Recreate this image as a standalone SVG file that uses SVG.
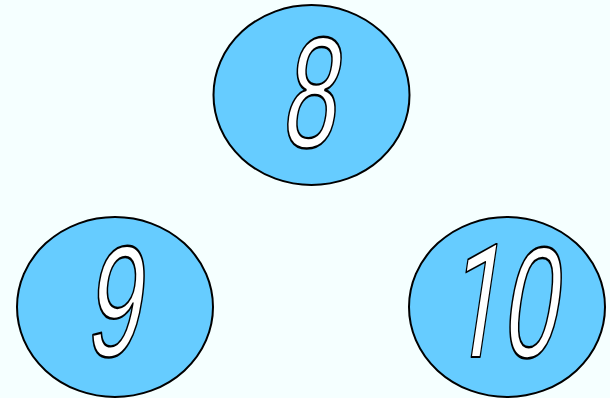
<svg xmlns="http://www.w3.org/2000/svg" width="610" height="398" viewBox="0 0 610 398">
<style>
.n{fill:#66CCFF;stroke:#000;stroke-width:2}
.t{font-family:"Liberation Sans",Arial,sans-serif;font-size:158px;fill:#fff;stroke:#000;stroke-width:2;stroke-linejoin:round;vector-effect:non-scaling-stroke;text-anchor:middle}
.r{font-family:Roboto,"Liberation Sans",sans-serif}
</style>
<rect width="610" height="398" fill="#F5FFFF"/>
<g id="connectors"/>
<g id="node8">
<ellipse class="n" cx="311.5" cy="95" rx="98" ry="90"/>
<text class="t" transform="translate(307,147) skewX(-8.5) scale(0.62,1)">8</text>
</g>
<g id="node9">
<ellipse class="n" cx="115" cy="307" rx="98" ry="90"/>
<text class="t" transform="translate(111,356) skewX(-8.5) scale(0.62,1)">9</text>
</g>
<g id="node10">
<ellipse class="n" cx="507" cy="307" rx="98" ry="90"/>
<text class="t" transform="translate(500,357) skewX(-8.5) scale(0.62,1)"><tspan class="r">1</tspan>0</text>
</g>
</svg>
